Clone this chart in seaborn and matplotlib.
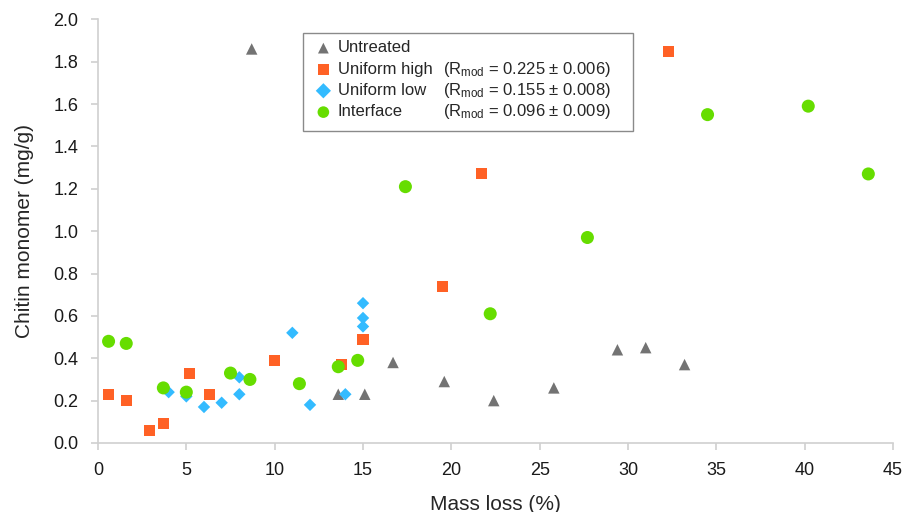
import matplotlib
matplotlib.use("Agg")
import matplotlib.pyplot as plt
import matplotlib.patches as patches
import seaborn as sns
import pandas as pd

# Data
untreated_x = [8.7, 13.6, 15.1, 16.7, 19.6, 22.4, 25.8, 29.4, 31.0, 33.2]
untreated_y = [1.86, 0.23, 0.23, 0.38, 0.29, 0.20, 0.26, 0.44, 0.45, 0.37]

high_x = [0.6, 1.6, 2.9, 3.7, 5.2, 6.3, 10.0, 13.8, 15.0, 19.5, 21.7, 32.3]
high_y = [0.23, 0.20, 0.06, 0.09, 0.33, 0.23, 0.39, 0.37, 0.49, 0.74, 1.27, 1.85]

low_x = [4.0, 5.0, 6.0, 7.0, 8.0, 8.0, 11.0, 12.0, 14.0, 15.0, 15.0, 15.0]
low_y = [0.24, 0.22, 0.17, 0.19, 0.23, 0.31, 0.52, 0.18, 0.23, 0.55, 0.59, 0.66]

iface_x = [0.6, 1.6, 3.7, 5.0, 7.5, 8.6, 11.4, 13.6, 14.7, 17.4, 22.2, 27.7, 34.5, 40.2, 43.6]
iface_y = [0.48, 0.47, 0.26, 0.24, 0.33, 0.30, 0.28, 0.36, 0.39, 1.21, 0.61, 0.97, 1.55, 1.59, 1.27]

groups = ["Untreated", "Uniform high", "Uniform low", "Interface"]
rmod = [None, "0.225 ± 0.006", "0.155 ± 0.008", "0.096 ± 0.009"]

sns.set_style("white")
plt.rcParams["font.family"] = ["Liberation Sans", "DejaVu Sans"]
plt.rcParams["mathtext.fontset"] = "custom"
plt.rcParams["mathtext.rm"] = "Liberation Sans"
plt.rcParams["mathtext.default"] = "regular"

fig = plt.figure(figsize=(9.03, 5.12), dpi=100)
ax = fig.add_axes([0.1085, 0.1348, 0.8805, 0.8275])

# marker, colour, size on plot, size in legend
styles = {
    "Untreated": ("^", "#737373", 68, 60),
    "Uniform high": ("s", "#FF6125", 63, 60),
    "Uniform low": ("D", "#33BBFF", 40, 60),
    "Interface": ("o", "#66DD00", 88, 70),
}
data = {
    "Untreated": (untreated_x, untreated_y),
    "Uniform high": (high_x, high_y),
    "Uniform low": (low_x, low_y),
    "Interface": (iface_x, iface_y),
}
for g in groups:
    m, c, s, _ = styles[g]
    df = pd.DataFrame({"x": data[g][0], "y": data[g][1]})
    sns.scatterplot(data=df, x="x", y="y", marker=m, color=c, s=s,
                    edgecolor="none", label=g, ax=ax, zorder=2)

ax.set_xlim(0, 45)
ax.set_ylim(0, 2.0)
ax.set_xticks(range(0, 46, 5))
ax.set_yticks([i / 5 for i in range(11)])
ax.set_yticklabels([f"{i / 5:.1f}" for i in range(11)])
ax.set_xlabel("Mass loss (%)", fontsize=15, labelpad=11)
ax.set_ylabel("Chitin monomer (mg/g)", fontsize=15, labelpad=14)

for side in ["top", "right"]:
    ax.spines[side].set_visible(False)
for side in ["left", "bottom"]:
    ax.spines[side].set_color("#d0d0d0")
    ax.spines[side].set_linewidth(1.2)
ax.tick_params(axis="both", which="major", length=5, width=1.2, color="#d0d0d0",
               labelsize=13, labelcolor="#1a1a1a", direction="out", bottom=True, left=True)
ax.tick_params(axis="x", pad=9)
ax.tick_params(axis="y", pad=9)

# legend box
box = patches.Rectangle((0.2579, 0.7366), 0.4151, 0.2311, transform=ax.transAxes,
                        facecolor="white", edgecolor="#8a8a8a", lw=1.0, zorder=3)
ax.add_patch(box)
leg = ax.legend(loc="upper left", bbox_to_anchor=(0.273, 0.95), frameon=False,
                fontsize=12, handlelength=1.0, handletextpad=0.35, labelspacing=0.38,
                borderpad=0, borderaxespad=0)
leg.set_zorder(4)
for h, g in zip(leg.legend_handles, groups):
    h.set_sizes([styles[g][3]])

fig.canvas.draw()
for t, r in zip(leg.get_texts(), rmod):
    if r is None:
        continue
    xd, yd = t.get_transform().transform(t.get_position())
    fx, fy = fig.transFigure.inverted().transform((443, yd))
    fig.text(443 / 903, fy, r"(R$_{mod}$ = " + r + ")", fontsize=12,
             va="baseline", ha="left", zorder=5)

fig.savefig("out.png", dpi=100)
